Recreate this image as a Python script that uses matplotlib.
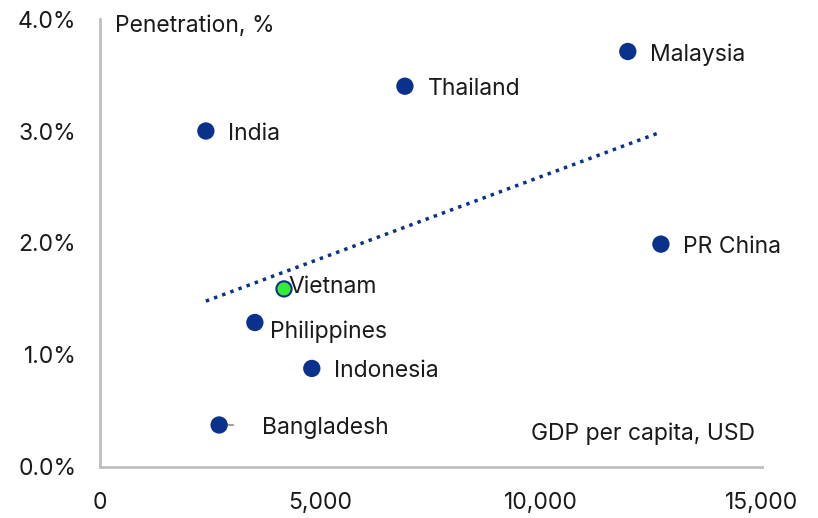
import matplotlib.pyplot as plt
import numpy as np

# Data
countries = ['India', 'Thailand', 'Malaysia', 'PR China', 'Vietnam',
             'Philippines', 'Indonesia', 'Bangladesh']
gdp_per_capita = [2400, 6910, 11960, 12710, 4170, 3510, 4800, 2700]
penetration = [3.00, 3.40, 3.71, 1.99, 1.59, 1.29, 0.88, 0.375]

# label offsets in pixels (dx, dy)
label_offsets = {
    'India': (22, -3), 'Thailand': (23, -3), 'Malaysia': (22, -3),
    'PR China': (22, -3), 'Vietnam': (4, 2), 'Philippines': (15, -9),
    'Indonesia': (22, -3), 'Bangladesh': (43, -3),
}

plt.rcParams['font.family'] = ['Inter', 'DejaVu Sans']
blue = '#0a318c'
grey = '#bfbfbf'
fs = 16.5

fig = plt.figure(figsize=(8.18, 5.18), dpi=100)
ax = fig.add_axes([0.1222, 0.0985, 0.8093, 0.8648])

x = np.array(gdp_per_capita)
y = np.array(penetration)

# trend line
slope, intercept = np.polyfit(x, y, 1)
fit_x = np.array([x.min(), x.max()])
ax.plot(fit_x, slope * fit_x + intercept, color=blue, linestyle=(0, (1, 1.5)),
        linewidth=2.5, zorder=2)

colors = ['#33ee33' if c == 'Vietnam' else blue for c in countries]
ax.scatter(x, y, s=120, c=colors, edgecolors=blue, linewidths=1.5, zorder=4)

for c, xi, yi in zip(countries, x, y):
    dx, dy = label_offsets[c]
    ax.annotate(c, (xi, yi), textcoords='offset pixels', xytext=(dx, dy),
                ha='left', va='center', fontsize=fs, color='#1a1a1a', zorder=5)
    if c == 'Bangladesh':
        ax.annotate('', (xi, yi), textcoords='offset pixels', xytext=(14, 0),
                    arrowprops=dict(arrowstyle='-', color='#a0a0a0', lw=1.5,
                                    shrinkA=0, shrinkB=0), zorder=3)

ax.set_xlim(0, 15000)
ax.set_ylim(0, 4.0)
ax.set_xticks([0, 5000, 10000, 15000])
ax.set_xticklabels(['0', '5,000', '10,000', '15,000'])
ax.set_yticks([0, 1, 2, 3, 4])
ax.set_yticklabels(['0.0%', '1.0%', '2.0%', '3.0%', '4.0%'])
ax.tick_params(length=0, labelsize=fs, labelcolor='#1a1a1a')
ax.tick_params(axis='x', pad=18)
ax.tick_params(axis='y', pad=17)

for s in ['top', 'right']:
    ax.spines[s].set_visible(False)
for s in ['left', 'bottom']:
    ax.spines[s].set_color(grey)
    ax.spines[s].set_linewidth(2)

ax.text(0.022, 0.985, 'Penetration, %', transform=ax.transAxes, fontsize=fs,
        color='#1a1a1a', ha='left', va='center')
ax.text(0.99, 0.075, 'GDP per capita, USD', transform=ax.transAxes, fontsize=fs,
        color='#1a1a1a', ha='right', va='center')

fig.savefig('out.png', dpi=100)
